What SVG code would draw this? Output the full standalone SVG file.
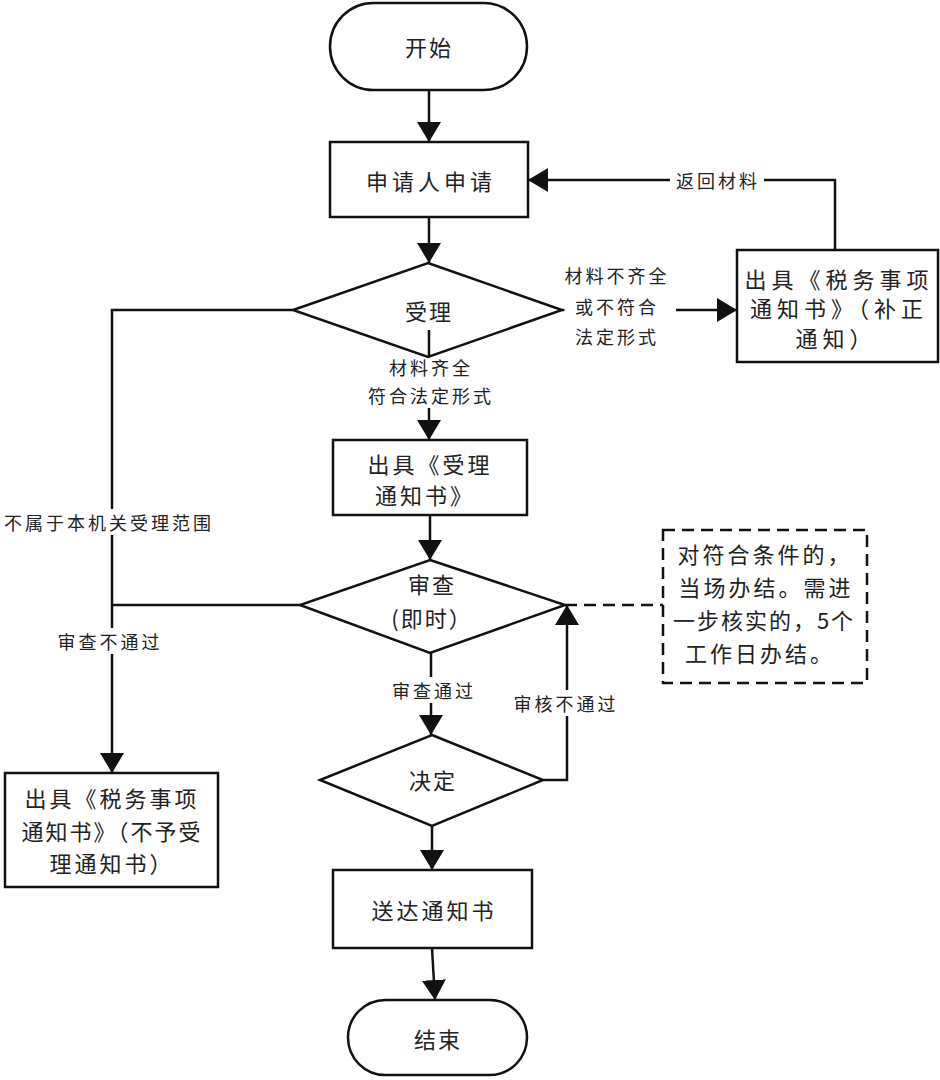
<svg xmlns="http://www.w3.org/2000/svg" width="940" height="1080" viewBox="0 0 940 1080">
<style>
.s{fill:#fff;stroke:#111;stroke-width:2.5}
.c{fill:none;stroke:#111;stroke-width:2.5}
.d{fill:none;stroke:#111;stroke-width:2.5;stroke-dasharray:12 7}
.t{font-family:"Noto Sans CJK SC","Noto Sans",sans-serif;font-size:22px;fill:#222;text-anchor:middle;dominant-baseline:central}
.l{font-family:"Noto Sans CJK SC","Noto Sans",sans-serif;font-size:18px;fill:#222;text-anchor:middle;dominant-baseline:central;letter-spacing:3px}
.bg{fill:#fff;stroke:none}
</style>
<defs>
<marker id="ah" viewBox="0 0 20 24" refX="20" refY="12" markerWidth="20" markerHeight="24" markerUnits="userSpaceOnUse" orient="auto"><path d="M0,0L20,12L0,24z" fill="#111"/></marker>
</defs>
<g id="connectors">
<path class="c" d="M429,90V142" marker-end="url(#ah)"/>
<path class="c" d="M429,217V263" marker-end="url(#ah)"/>
<path class="c" d="M835,250V180H528" marker-end="url(#ah)"/>
<path class="c" d="M562,310H737" marker-end="url(#ah)"/>
<path class="c" d="M293,310H112V773" marker-end="url(#ah)"/>
<path class="c" d="M300,605H112"/>
<path class="c" d="M429,330V440" marker-end="url(#ah)"/>
<path class="c" d="M430,515V560" marker-end="url(#ah)"/>
<path class="d" d="M565,605H663"/>
<path class="c" d="M431,653V735" marker-end="url(#ah)"/>
<path class="c" d="M543,780H567V605" marker-end="url(#ah)"/>
<path class="c" d="M432,826V870" marker-end="url(#ah)"/>
<path class="c" d="M432,948L435,1000" marker-end="url(#ah)"/>
<rect class="bg" x="670" y="168" width="94" height="24"/>
<text class="l" x="718" y="180">返回材料</text>
<rect class="bg" x="564" y="262" width="112" height="88"/>
<text class="l" x="617" y="275">材料不齐全</text>
<text class="l" x="617" y="306">或不符合</text>
<text class="l" x="617" y="336">法定形式</text>
<rect class="bg" x="360" y="356" width="140" height="52"/>
<text class="l" x="431" y="367">材料齐全</text>
<text class="l" x="431" y="395">符合法定形式</text>
<rect class="bg" x="1" y="509" width="216" height="26"/>
<text class="l" x="109" y="522" letter-spacing="2">不属于本机关受理范围</text>
<rect class="bg" x="52" y="628" width="112" height="26"/>
<text class="l" x="110" y="641">审查不通过</text>
<rect class="bg" x="386" y="677" width="94" height="26"/>
<text class="l" x="434" y="690">审查通过</text>
<rect class="bg" x="510" y="690" width="112" height="26"/>
<text class="l" x="566" y="703">审核不通过</text>
</g>
<g id="start"><rect class="s" x="330" y="3" width="197" height="87" rx="43.5"/><text class="t" x="429" y="46" letter-spacing="2">开始</text></g>
<g id="apply"><rect class="s" x="330" y="142" width="198" height="75"/><text class="t" x="431" y="180" letter-spacing="4">申请人申请</text></g>
<g id="accept"><path class="s" d="M428,263L562,310L428,357L293,310Z"/><text class="t" x="429" y="310" letter-spacing="2">受理</text><path class="c" d="M429,330V357"/></g>
<g id="correct"><rect class="s" x="737" y="250" width="201" height="112"/>
<text class="t" x="839" y="278" letter-spacing="5">出具《税务事项</text>
<text class="t" x="839" y="307" letter-spacing="5">通知书》（补正</text>
<text class="t" x="836" y="337" letter-spacing="5">通知）</text></g>
<g id="acceptNotice"><rect class="s" x="333" y="440" width="194" height="75"/>
<text class="t" x="430" y="463" letter-spacing="3">出具《受理</text>
<text class="t" x="425" y="494" letter-spacing="3">通知书》</text></g>
<g id="review"><path class="s" d="M430,560L565,605L430,653L300,605Z"/>
<text class="t" x="432" y="583" letter-spacing="2">审查</text>
<text class="t" x="432" y="617" letter-spacing="2">(即时）</text></g>
<g id="note"><rect fill="#fff" class="d" x="663" y="530" width="204" height="153"/>
<text class="t" x="765" y="553" letter-spacing="3">对符合条件的，</text>
<text class="t" x="766" y="586" letter-spacing="3">当场办结。需进</text>
<text class="t" x="764" y="619" letter-spacing="2">一步核实的，5个</text>
<text class="t" x="760" y="652" letter-spacing="3">工作日办结。</text></g>
<g id="decide"><path class="s" d="M432,735L543,780L432,826L320,780Z"/><text class="t" x="433" y="779" letter-spacing="2">决定</text></g>
<g id="reject"><rect class="s" x="5" y="773" width="213" height="114"/>
<text class="t" x="112" y="797" letter-spacing="3">出具《税务事项</text>
<text class="t" x="112" y="830" letter-spacing="2">通知书》（不予受</text>
<text class="t" x="112" y="862" letter-spacing="3">理通知书）</text></g>
<g id="deliver"><rect class="s" x="333" y="870" width="199" height="78"/><text class="t" x="434" y="909" letter-spacing="3">送达通知书</text></g>
<g id="end"><rect class="s" x="348" y="1000" width="179" height="75" rx="37.5"/><text class="t" x="438" y="1038" letter-spacing="2">结束</text></g>
</svg>
